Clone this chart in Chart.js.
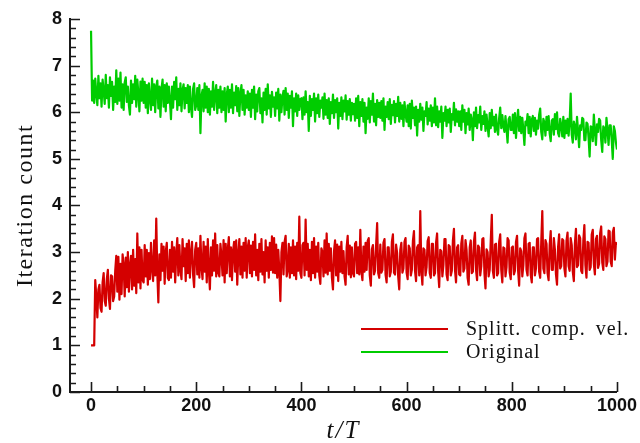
<!DOCTYPE html>
<html>
<head>
<meta charset="utf-8">
<title>Iteration count</title>
<script src="https://cdn.jsdelivr.net/npm/chart.js@4.4.0/dist/chart.umd.min.js"></script>
<style>
	body { margin: 0; background: #fff; }
	#wrap { position: relative; width: 640px; height: 443px; }
	#legend {
		position: absolute; left: 361px; top: 317px;
		font-family: "Liberation Serif", serif; font-size: 20px; color: #111;
		letter-spacing: 1px; word-spacing: 4px;
	}
	.row { display: flex; align-items: center; height: 23px; white-space: nowrap; }
	.swatch { width: 87px; height: 2px; margin-right: 18px; }
</style>
</head>
<body>
<div id="wrap">
	<canvas id="chart" width="640" height="443"></canvas>
	<div id="legend"></div>
</div>
<script>
// samples every 2 time units, t/T = 0 .. 1000
const timeStep = 2;

const seriesNames = ["Splitt. comp. vel.", "Original"];
const seriesColors = ["#d40000", "#00cc00"];
const xTitle = "t/T";
const yTitle = "Iteration count";

// Splitt. comp. vel.
const splittValues = [
	1.00, 1.00, 1.00, 1.00, 2.40, 2.05, 1.60, 2.20, 2.30, 1.80, 1.72, 2.35, 2.55, 1.95, 1.85, 2.42, 2.62, 2.00, 1.78, 2.50, 2.48, 1.95, 2.05, 2.60, 2.92,
	2.15, 2.90, 1.98, 2.75, 2.10, 2.95, 2.72, 2.05, 2.88, 2.25, 3.00, 2.15, 2.70, 2.92, 2.20, 3.05, 2.28, 2.85, 2.12, 3.40, 2.35, 3.10, 2.22, 3.05, 2.40,
	2.35, 3.15, 2.48, 3.05, 2.30, 2.98, 2.42, 3.20, 2.65, 2.38, 3.25, 2.50, 3.72, 2.55, 1.92, 2.95, 2.40, 3.18, 2.60, 3.12, 2.32, 3.00, 3.20, 2.45, 2.40,
	3.05, 2.45, 3.22, 2.58, 3.10, 2.35, 2.96, 3.30, 2.50, 3.15, 2.62, 2.42, 3.28, 2.70, 3.08, 2.38, 3.18, 2.55, 3.25, 2.45, 2.98, 3.22, 2.52, 2.25, 3.05,
	3.20, 2.52, 3.08, 2.45, 3.35, 2.68, 2.42, 3.22, 2.58, 3.12, 2.35, 3.28, 2.62, 2.20, 3.10, 2.50, 3.25, 2.60, 3.40, 2.48, 3.15, 2.56, 2.48, 3.18, 2.92,
	2.50, 3.26, 2.35, 3.18, 2.55, 3.05, 3.32, 2.48, 3.10, 2.40, 3.02, 3.22, 2.58, 3.25, 2.30, 2.95, 3.28, 2.52, 3.12, 2.45, 3.20, 2.60, 3.30, 2.45, 3.10,
	3.25, 2.55, 3.14, 2.48, 3.22, 2.62, 3.38, 2.50, 3.05, 2.40, 3.18, 2.58, 3.28, 2.52, 3.00, 2.35, 3.25, 2.60, 3.10, 2.45, 3.20, 2.62, 3.34, 2.56, 3.30,
	2.55, 3.16, 2.45, 3.05, 2.60, 1.95, 3.00, 3.20, 2.52, 3.22, 3.35, 2.48, 2.62, 3.18, 2.45, 3.10, 2.55, 3.25, 2.50, 3.12, 2.42, 3.20, 2.60, 3.76, 2.55,
	2.45, 3.15, 3.20, 2.50, 3.70, 2.62, 3.18, 2.48, 3.05, 2.40, 3.22, 2.55, 3.30, 2.45, 3.12, 2.58, 3.20, 2.50, 2.32, 3.08, 3.00, 2.48, 3.25, 2.56, 3.40,
	2.52, 3.18, 2.60, 3.08, 2.45, 2.20, 3.02, 3.25, 2.50, 3.16, 2.38, 3.12, 2.58, 3.22, 2.55, 3.02, 2.48, 2.30, 3.10, 3.35, 2.52, 3.14, 2.46, 3.10, 2.55,
	2.48, 3.18, 3.22, 2.55, 3.10, 2.52, 3.48, 2.60, 2.40, 3.12, 2.58, 3.20, 2.62, 3.24, 3.30, 2.50, 2.28, 3.06, 3.15, 2.52, 2.60, 3.14, 3.62, 2.55, 2.45,
	3.16, 2.56, 2.62, 3.20, 3.28, 2.52, 2.35, 3.10, 3.10, 2.48, 2.58, 3.22, 3.38, 2.56, 2.52, 3.16, 2.98, 2.48, 2.20, 3.05, 3.20, 2.56, 2.65, 3.22, 3.30,
	2.56, 2.42, 3.14, 3.08, 2.50, 2.62, 3.24, 3.45, 2.60, 2.38, 3.10, 3.15, 2.50, 3.88, 2.62, 2.30, 3.08, 3.05, 2.50, 2.68, 3.24, 3.32, 2.55, 2.45, 3.18,
	3.18, 2.50, 2.55, 3.20, 3.40, 2.58, 2.25, 3.05, 3.02, 2.48, 2.72, 3.28, 3.28, 2.52, 2.40, 3.15, 3.12, 2.50, 2.60, 3.24, 3.50, 2.62, 2.35, 3.10, 3.15,
	2.52, 2.50, 3.18, 3.35, 2.58, 2.65, 3.26, 3.05, 2.45, 2.30, 3.10, 3.25, 2.55, 2.58, 3.22, 3.42, 2.62, 2.40, 3.14, 3.10, 2.50, 2.70, 3.28, 3.30, 2.55,
	2.22, 3.06, 3.00, 2.48, 2.62, 3.24, 3.80, 2.60, 2.45, 3.16, 3.18, 2.50, 2.55, 3.22, 3.38, 2.62, 2.35, 3.10, 3.08, 2.48, 2.68, 3.30, 3.25, 2.56, 2.42,
	3.10, 3.12, 2.52, 2.60, 3.22, 3.35, 2.60, 2.28, 3.08, 3.02, 2.48, 2.72, 3.30, 3.40, 2.62, 2.50, 3.18, 3.20, 2.52, 2.35, 3.10, 3.10, 2.50, 2.65, 3.28,
	3.30, 2.58, 2.45, 3.20, 3.88, 2.65, 2.55, 3.26, 3.18, 2.55, 2.40, 3.14, 3.45, 2.62, 2.62, 3.30, 3.05, 2.52, 2.30, 3.10, 3.38, 2.65, 2.70, 3.28, 3.25,
	2.65, 2.48, 3.24, 3.42, 2.70, 2.60, 3.30, 3.15, 2.58, 2.38, 3.18, 3.50, 2.68, 2.72, 3.36, 3.30, 2.60, 2.55, 3.24, 3.58, 2.72, 2.45, 3.22, 3.20, 2.62,
	2.68, 3.38, 3.48, 2.75, 2.52, 3.28, 3.35, 2.66, 2.75, 3.40, 3.55, 2.78, 2.62, 3.34, 3.28, 2.70, 2.80, 3.46, 3.45, 2.80, 2.70, 3.42, 3.52, 2.84, 3.20,
	3.15
];

// Original
const originalValues = [
	7.75, 6.25, 6.68, 6.20, 6.72, 6.40, 6.15, 6.78, 6.30, 6.62, 6.12, 6.70, 6.45, 6.18, 6.80, 6.30, 6.58, 6.10, 6.75, 6.35, 6.65, 6.05, 6.55, 6.22, 6.90,
	6.18, 6.72, 6.25, 6.85, 6.10, 6.60, 6.05, 6.64, 6.75, 6.22, 6.55, 6.15, 5.95, 6.68, 6.20, 6.60, 6.28, 6.78, 6.12, 6.70, 6.40, 6.02, 6.66, 6.25, 6.72,
	6.20, 6.65, 6.10, 6.58, 5.98, 6.62, 6.30, 6.05, 6.72, 6.15, 6.60, 6.00, 6.55, 6.68, 6.08, 6.55, 5.90, 6.50, 6.70, 6.12, 6.58, 6.02, 6.62, 6.20, 6.55,
	6.25, 5.85, 6.55, 6.10, 6.65, 6.28, 6.75, 6.05, 6.50, 6.15, 6.62, 6.02, 6.48, 6.60, 6.08, 6.52, 6.20, 6.58, 6.00, 6.55, 6.10, 5.90, 6.50, 6.62, 6.05,
	6.15, 6.52, 6.05, 6.58, 5.55, 6.35, 6.48, 6.02, 6.62, 6.10, 6.55, 6.00, 6.50, 5.95, 6.45, 6.12, 6.65, 6.05, 6.40, 6.58, 5.98, 6.48, 6.10, 6.55, 6.00,
	6.45, 6.05, 6.52, 5.80, 6.38, 6.55, 6.00, 6.48, 6.10, 6.60, 5.98, 6.42, 6.15, 6.56, 6.02, 6.52, 5.92, 6.40, 6.58, 6.05, 6.48, 5.95, 6.36, 6.10, 6.45,
	6.05, 6.40, 5.90, 6.48, 6.10, 6.55, 5.85, 6.38, 6.02, 6.45, 6.52, 5.98, 6.30, 5.78, 6.42, 6.05, 6.50, 5.95, 6.60, 6.08, 6.36, 5.90, 6.44, 6.12, 6.32,
	5.92, 6.42, 6.08, 6.50, 5.82, 6.38, 6.00, 6.33, 6.46, 5.95, 6.52, 6.05, 6.40, 5.88, 6.35, 6.10, 6.45, 5.70, 6.30, 6.02, 6.40, 5.92, 6.36, 6.05, 6.28,
	6.30, 5.85, 6.32, 5.95, 6.45, 6.00, 6.22, 5.60, 6.35, 5.92, 6.28, 6.05, 6.40, 5.80, 6.30, 5.98, 6.38, 5.90, 6.25, 6.10, 6.32, 5.86, 6.40, 5.95, 6.26,
	5.88, 6.30, 5.75, 6.22, 5.98, 6.38, 5.88, 6.26, 6.00, 6.30, 5.65, 6.20, 5.92, 6.32, 5.85, 6.25, 6.02, 6.36, 5.84, 6.24, 5.95, 6.28, 5.82, 6.20, 5.96,
	6.18, 5.82, 6.30, 5.88, 6.35, 5.70, 6.22, 5.92, 6.28, 5.80, 6.20, 5.55, 6.10, 5.86, 6.30, 5.78, 6.24, 5.95, 6.40, 5.80, 6.18, 5.72, 6.26, 5.90, 6.20,
	5.88, 6.24, 5.82, 6.30, 5.62, 6.12, 5.90, 6.22, 5.85, 6.28, 5.75, 6.16, 5.94, 6.24, 5.78, 6.18, 5.92, 6.33, 5.80, 6.20, 5.86, 6.15, 5.70, 6.22, 5.96,
	5.80, 6.15, 5.70, 6.18, 5.65, 6.25, 5.88, 6.10, 5.72, 6.12, 5.50, 6.05, 5.80, 6.18, 5.84, 6.10, 5.60, 6.02, 5.92, 6.22, 5.74, 6.08, 5.82, 6.15, 5.70,
	6.10, 5.78, 6.30, 5.72, 6.12, 5.68, 6.02, 5.80, 6.12, 5.45, 5.98, 5.82, 6.12, 5.70, 6.05, 5.78, 6.08, 5.58, 5.96, 5.84, 6.20, 5.72, 6.06, 5.80, 6.02,
	5.70, 6.02, 5.62, 6.15, 5.80, 6.05, 5.55, 5.98, 5.74, 6.08, 5.62, 5.95, 5.84, 5.40, 6.00, 5.70, 6.10, 5.66, 5.94, 5.78, 6.12, 5.62, 5.92, 5.75, 6.02,
	5.60, 5.95, 5.70, 5.48, 5.98, 5.66, 6.05, 5.72, 5.90, 5.58, 5.95, 5.64, 5.52, 5.88, 6.10, 5.66, 5.94, 5.70, 5.58, 5.92, 5.64, 5.35, 5.85, 5.90, 5.62,
	5.62, 5.95, 5.55, 5.98, 5.45, 5.82, 6.05, 5.60, 5.90, 5.55, 5.88, 5.62, 5.30, 5.80, 5.72, 5.96, 5.55, 5.90, 5.48, 5.84, 5.92, 5.60, 5.88, 5.52, 5.82,
	5.65, 5.95, 6.08, 5.58, 5.42, 5.86, 5.78, 5.50, 5.90, 5.62, 5.92, 5.55, 5.38, 5.82, 5.85, 5.52, 5.96, 5.64, 6.00, 5.55, 5.48, 5.86, 5.72, 5.48, 5.90,
	5.45, 5.82, 5.55, 5.86, 5.50, 5.78, 6.40, 5.52, 5.35, 5.80, 5.70, 5.42, 5.90, 5.60, 5.25, 5.72, 5.62, 5.88, 5.85, 5.40, 5.40, 5.78, 5.75, 5.45, 5.05,
	5.70, 5.68, 5.38, 5.95, 5.60, 5.30, 5.74, 5.58, 5.86, 5.82, 5.40, 5.15, 5.70, 5.65, 5.35, 5.88, 5.62, 5.30, 5.72, 5.72, 5.40, 5.00, 5.70, 5.60, 5.35,
	5.20
];

const xMajorTicks = [0, 200, 400, 600, 800, 1000];
const yMajorTicks = [0, 1, 2, 3, 4, 5, 6, 7, 8];

const axisColor = "#1a1a1a";
const tickFont = { family: "'Liberation Sans', Arial, sans-serif", size: 18, weight: "bold" };

function toPoints(values) {
	return values.map((v, i) => ({ x: i * timeStep, y: v }));
}

// ticks pointing into the plot, major and minor
const innerTicks = {
	id: "innerTicks",
	afterDraw(chart) {
		const { ctx, chartArea } = chart;
		const xs = chart.scales.x;
		const ys = chart.scales.y;
		ctx.save();
		ctx.strokeStyle = axisColor;
		ctx.lineWidth = 1.6;
		ctx.beginPath();
		for (let v = 0; v <= 8.001; v += 0.2) {
			const py = Math.round(ys.getPixelForValue(v)) + 0.5;
			const major = yMajorTicks.some(t => Math.abs(t - v) < 1e-6);
			ctx.moveTo(chartArea.left, py);
			ctx.lineTo(chartArea.left + (major ? 10 : 6), py);
		}
		for (let v = 0; v <= 1000; v += 50) {
			const px = Math.round(xs.getPixelForValue(v)) + 0.5;
			const major = xMajorTicks.includes(v);
			ctx.moveTo(px, chartArea.bottom);
			ctx.lineTo(px, chartArea.bottom - (major ? 10 : 6));
		}
		ctx.stroke();
		ctx.restore();
	}
};

// axis titles in a serif face, slightly spaced like the TeX original
const axisTitles = {
	id: "axisTitles",
	afterDraw(chart) {
		const { ctx, chartArea } = chart;
		ctx.save();
		ctx.fillStyle = "#111";
		ctx.textAlign = "center";
		ctx.textBaseline = "alphabetic";
		ctx.letterSpacing = "1.5px";
		ctx.font = "24px 'Liberation Serif', serif";
		ctx.translate(32, (chartArea.top + chartArea.bottom) / 2);
		ctx.rotate(-Math.PI / 2);
		ctx.fillText(yTitle, 0, 0);
		ctx.restore();

		ctx.save();
		ctx.fillStyle = "#111";
		ctx.textAlign = "center";
		ctx.textBaseline = "alphabetic";
		ctx.letterSpacing = "2px";
		ctx.font = "italic 25px 'Liberation Serif', serif";
		ctx.fillText(xTitle, (chartArea.left + chartArea.right) / 2, 438);
		ctx.restore();
	}
};

document.addEventListener("DOMContentLoaded", () => {
	const ctx = document.getElementById("chart").getContext("2d");
	const datasets = [splittValues, originalValues].map((values, i) => ({
		label: seriesNames[i],
		data: toPoints(values),
		borderColor: seriesColors[i],
		backgroundColor: seriesColors[i],
		borderWidth: 2.2,
		borderJoinStyle: "round",
		pointRadius: 0,
		tension: 0,
		fill: false
	}));

	new Chart(ctx, {
		type: "line",
		data: { datasets },
		options: {
			responsive: false,
			animation: false,
			layout: { padding: { left: 0, right: 23, top: 19, bottom: 0 } },
			plugins: { legend: { display: false }, tooltip: { enabled: false } },
			scales: {
				x: {
					type: "linear",
					min: -40,
					max: 1000,
					afterFit: s => { s.height = 51; },
					afterBuildTicks: s => { s.ticks = xMajorTicks.map(v => ({ value: v })); },
					grid: { display: false, drawTicks: false },
					border: { display: true, color: axisColor, width: 2 },
					ticks: { color: "#111", font: tickFont, padding: 3, maxRotation: 0, callback: v => String(v) }
				},
				y: {
					min: 0,
					max: 8,
					afterFit: s => { s.width = 70; },
					afterBuildTicks: s => { s.ticks = yMajorTicks.map(v => ({ value: v })); },
					grid: { display: false, drawTicks: false },
					border: { display: true, color: axisColor, width: 2 },
					ticks: { color: "#111", font: tickFont, padding: 8, callback: v => String(v) }
				}
			}
		},
		plugins: [innerTicks, axisTitles]
	});

	// legend drawn as html in the lower right corner
	const legend = document.getElementById("legend");
	seriesNames.forEach((name, i) => {
		const row = document.createElement("div");
		row.className = "row";
		row.innerHTML = `<span class="swatch" style="background:${seriesColors[i]}"></span><span>${name}</span>`;
		legend.appendChild(row);
	});
});
</script>
</body>
</html>
